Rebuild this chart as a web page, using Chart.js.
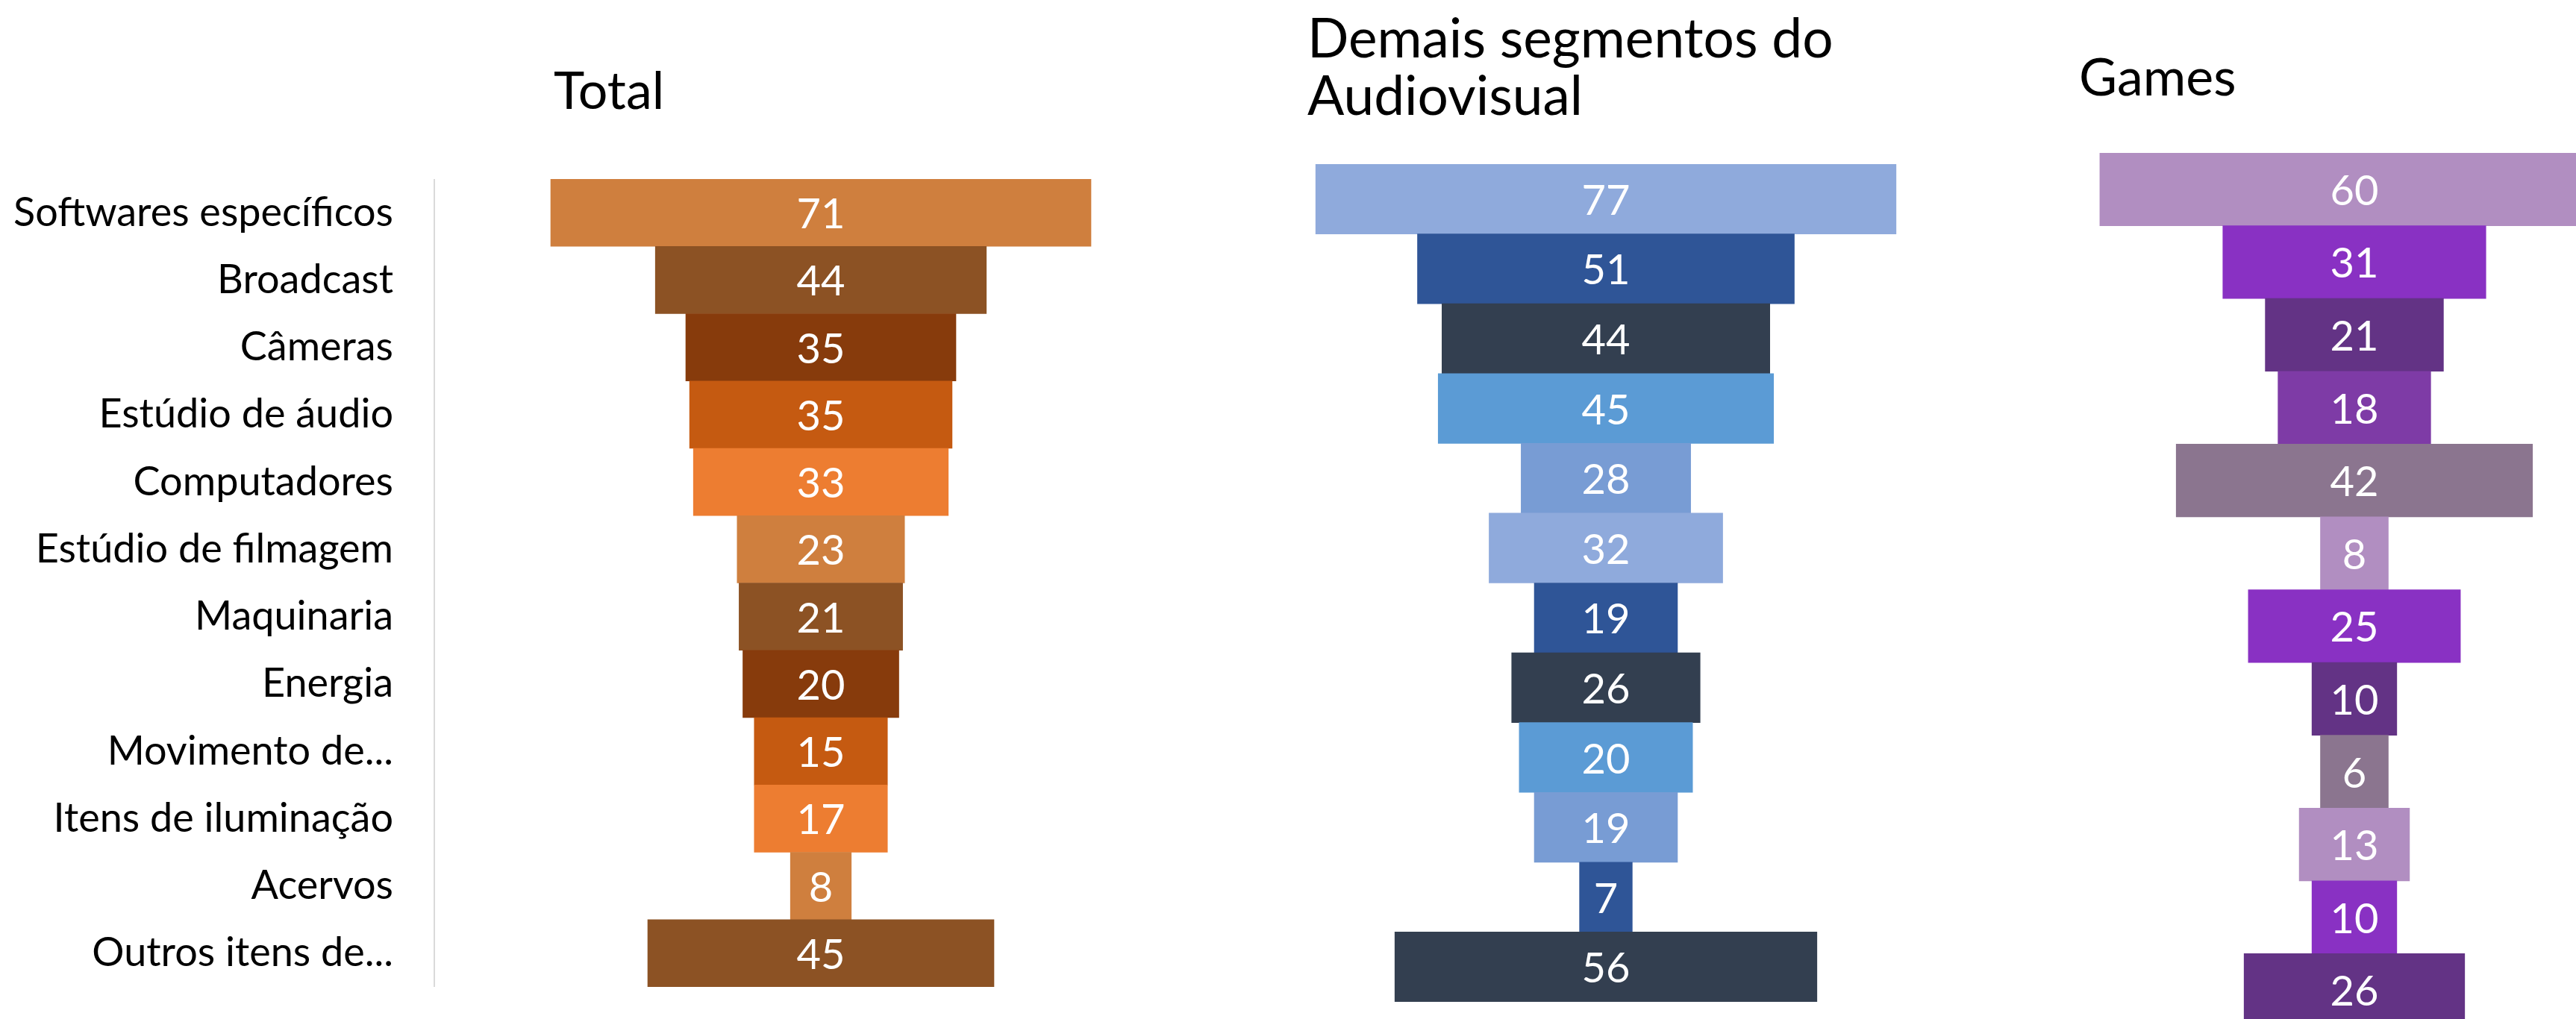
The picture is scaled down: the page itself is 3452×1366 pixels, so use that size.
<!DOCTYPE html>
<html>
<head>
<meta charset="utf-8">
<script src="https://cdn.jsdelivr.net/npm/chart.js@4.4.1/dist/chart.umd.min.js"></script>
<style>
  html, body { margin: 0; padding: 0; background: #fff; overflow: hidden; }
  #page { position: relative; width: 3452px; height: 1366px; overflow: hidden; }
  canvas { position: absolute; }
  .title { position: absolute; font-family: Lato, sans-serif; font-size: 70px; line-height: 77px; color: #000; white-space: normal; }
</style>
</head>
<body>
<div id="page">
  <div class="title" id="t0" style="left:742px; top:81px;"></div>
  <div class="title" id="t1" style="left:1752px; top:11px; width:800px; font-size:73px;"></div>
  <div class="title" id="t2" style="left:2786px; top:63px;"></div>
  <canvas id="totalChart" width="1618" height="1083" style="left:0; top:240px;"></canvas>
  <canvas id="demaisChart" width="800" height="1123" style="left:1752px; top:220px;"></canvas>
  <canvas id="gamesChart" width="720" height="1171" style="left:2740px; top:205px;"></canvas>
</div>
<script>
// Dados
const titles = ['Total', 'Demais segmentos do Audiovisual', 'Games'];
const categories = ['Softwares específicos', 'Broadcast', 'Câmeras', 'Estúdio de áudio', 'Computadores',
  'Estúdio de filmagem', 'Maquinaria', 'Energia', 'Movimento de...', 'Itens de iluminação', 'Acervos', 'Outros itens de...'];

// rótulos mostrados e largura das barras
const totalLabels = [71, 44, 35, 35, 33, 23, 21, 20, 15, 17, 8, 45];
const totalBars = [71, 43.5, 35.5, 34.5, 33.5, 22, 21.5, 20.5, 17.5, 17.5, 8, 45.5];
const demaisLabels = [77, 51, 44, 45, 28, 32, 19, 26, 20, 19, 7, 56];
const demaisBars = [77, 50, 43.5, 44.5, 22.5, 31, 19, 25, 23, 19, 7, 56];
const gamesLabels = [60, 31, 21, 18, 42, 8, 25, 10, 6, 13, 10, 26];
const gamesBars = [60, 31, 21, 18, 42, 8, 25, 10, 8, 13, 10, 26];

const totalColors = ['#CF7F3E', '#8C5224', '#873B0C', '#C55A11', '#ED7D31', '#CF7F3E',
  '#8C5224', '#873B0C', '#C55A11', '#ED7D31', '#CF7F3E', '#8C5224'];
const demaisColors = ['#8FAADC', '#2F5597', '#333F50', '#5B9BD5', '#789CD4', '#8FAADC',
  '#2F5597', '#333F50', '#5B9BD5', '#789CD4', '#2F5597', '#333F50'];
const gamesColors = ['#B18EC1', '#8931C3', '#633385', '#7E3BA6', '#8B758F', '#B18EC1',
  '#8931C3', '#633385', '#8B758F', '#B18EC1', '#8931C3', '#633385'];

titles.forEach((t, i) => { document.getElementById('t' + i).textContent = t; });

Chart.defaults.font.family = 'Lato, sans-serif';

// rótulos de valor no meio de cada barra
const valueLabels = {
  id: 'valueLabels',
  afterDatasetsDraw(chart, args, opts) {
    const ctx = chart.ctx;
    const meta = chart.getDatasetMeta(0);
    ctx.save();
    ctx.font = '56px Lato, sans-serif';
    ctx.fillStyle = '#fff';
    ctx.textAlign = 'center';
    ctx.textBaseline = 'middle';
    meta.data.forEach((bar, i) => {
      ctx.fillText(String(opts.values[i]), (bar.x + bar.base) / 2, bar.y + 3);
    });
    ctx.restore();
  }
};

function makeFunnel(id, bars, shown, colors, xMin, xMax, axisWidth) {
  const showAxis = axisWidth > 0;
  return new Chart(document.getElementById(id), {
    type: 'bar',
    data: {
      labels: categories,
      datasets: [{
        data: bars.map(v => [-v / 2, v / 2]),
        backgroundColor: colors,
        borderWidth: 0,
        categoryPercentage: 1,
        barPercentage: 1
      }]
    },
    options: {
      indexAxis: 'y',
      responsive: false,
      animation: false,
      layout: { padding: 0 },
      plugins: {
        legend: { display: false },
        tooltip: { enabled: false },
        valueLabels: { values: shown }
      },
      scales: {
        x: { display: false, min: xMin, max: xMax },
        y: {
          display: showAxis,
          grid: { display: false, drawTicks: false },
          border: { display: showAxis, color: '#DADADA', width: 2 },
          ticks: { color: '#000', font: { size: 54 }, padding: 55 },
          afterFit(scale) {
            if (!showAxis) return;
            scale.width = axisWidth;
            scale.paddingTop = 0;
            scale.paddingBottom = 0;
          }
        }
      }
    },
    plugins: [valueLabels]
  });
}

makeFunnel('totalChart', totalBars, totalLabels, totalColors, -50.8, 50.8, 582);
makeFunnel('demaisChart', demaisBars, demaisLabels, demaisColors, -400 / 10.1, 400 / 10.1, 0);
makeFunnel('gamesChart', gamesBars, gamesLabels, gamesColors, -415 / 11.37, 305 / 11.37, 0);
</script>
</body>
</html>
